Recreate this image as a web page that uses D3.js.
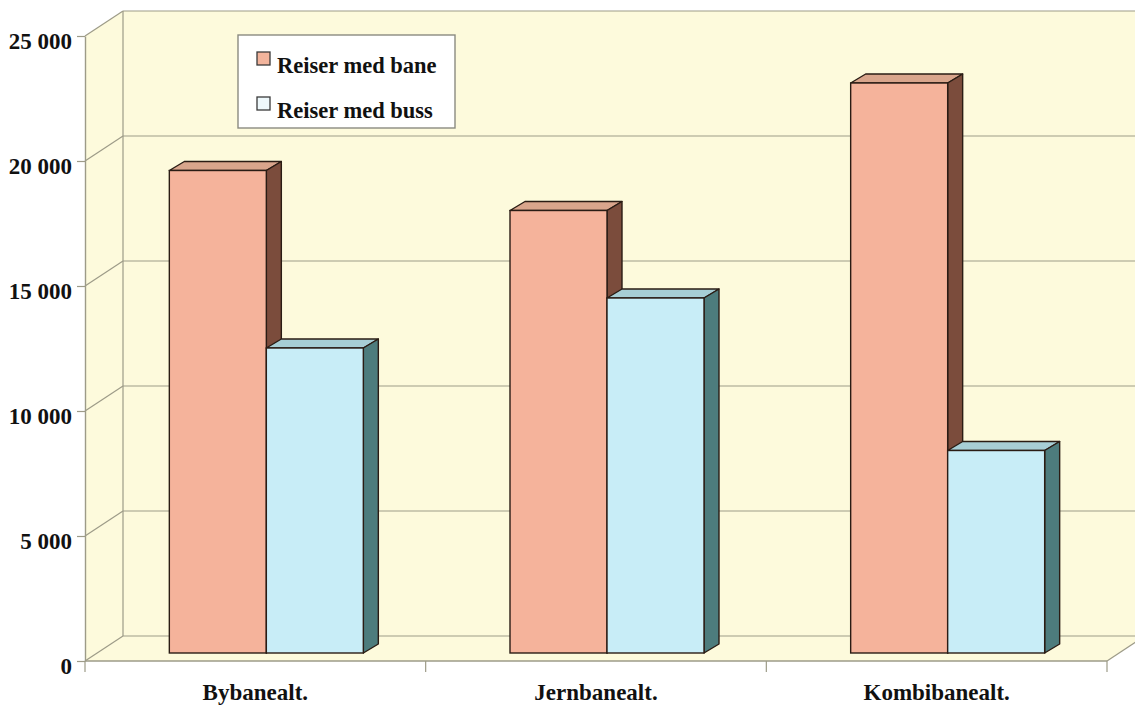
<!DOCTYPE html>
<html>
<head>
<meta charset="utf-8">
<script src="https://cdn.jsdelivr.net/npm/d3@7"></script>
<style>
  html, body { margin: 0; padding: 0; background: #ffffff; }
  svg { display: block; }
  text { font-family: "Liberation Serif", "Times New Roman", serif; font-weight: bold; fill: #111; }
</style>
</head>
<body>
<svg id="chart" width="1135" height="707"></svg>
<script>
// Trips per alternative (daily), by mode
const categories = ["Bybanealt.", "Jernbanealt.", "Kombibanealt."];
const seriesNames = ["Reiser med bane", "Reiser med buss"];
const baneValues = [19300, 17700, 22800];
const bussValues = [12200, 14200, 8100];
const yTicks = [0, 5000, 10000, 15000, 20000, 25000];

const svg = d3.select("#chart");

// Front plane of the 3D box and the depth offset to the back wall
const front = { left: 85, right: 1107, top: 36, bottom: 661 };
const wallDx = 38, wallDy = -25;
// Bars sit partway into the box; each bar has its own small depth
const barOx = 11, barOy = -8;
const barDx = 15, barDy = -9;

const y = d3.scaleLinear().domain([0, 25000]).range([front.bottom, front.top]);
const x = d3.scaleBand().domain(categories).range([front.left, front.right]).paddingInner(0).paddingOuter(0);
const xs = d3.scaleBand().domain(seriesNames).range([0, 194]);

const colors = {
  "Reiser med bane": { front: "#f5b39b", top: "#d9a58c", side: "#7b4c3c", swatch: "#f2b49c" },
  "Reiser med buss": { front: "#c8edf7", top: "#a7ced5", side: "#4d7c7d", swatch: "#eef8fb" }
};
const wallFill = "#fdfadc";
const gridColor = "#9d9b88";
const edge = "#2a1c14";

// Walls and floor
const pts = a => a.map(p => p.join(",")).join(" ");
const g = svg.append("g");
g.append("polygon")
  .attr("points", pts([[front.left, front.top], [front.left + wallDx, front.top + wallDy],
    [front.right + wallDx, front.top + wallDy], [front.right + wallDx, front.bottom + wallDy],
    [front.right, front.bottom], [front.left, front.bottom]]))
  .attr("fill", wallFill);

// Gridlines: side-wall diagonals plus horizontal lines on the back wall
yTicks.forEach(v => {
  const yy = y(v);
  g.append("line").attr("x1", front.left).attr("y1", yy)
    .attr("x2", front.left + wallDx).attr("y2", yy + wallDy)
    .attr("stroke", gridColor).attr("stroke-width", 1.2);
  g.append("line").attr("x1", front.left + wallDx).attr("y1", yy + wallDy)
    .attr("x2", front.right + wallDx).attr("y2", yy + wallDy)
    .attr("stroke", gridColor).attr("stroke-width", 1.2);
});
// Back wall left edge
g.append("line").attr("x1", front.left + wallDx).attr("y1", y(25000) + wallDy)
  .attr("x2", front.left + wallDx).attr("y2", y(0) + wallDy)
  .attr("stroke", gridColor).attr("stroke-width", 1.2);
// Floor front edge and right diagonal
g.append("line").attr("x1", front.left).attr("y1", y(0)).attr("x2", front.right).attr("y2", y(0))
  .attr("stroke", gridColor).attr("stroke-width", 1.4);
g.append("line").attr("x1", front.right).attr("y1", y(0))
  .attr("x2", front.right + wallDx).attr("y2", y(0) + wallDy)
  .attr("stroke", gridColor).attr("stroke-width", 1.2);

// Category boundary ticks below the floor
const bounds = categories.map(c => x(c)).concat([front.right]);
g.selectAll(".ctick").data(bounds).enter().append("line")
  .attr("x1", d => d).attr("x2", d => d)
  .attr("y1", y(0)).attr("y2", y(0) + 11)
  .attr("stroke", gridColor).attr("stroke-width", 1.2);

// Y axis
const fmt = d3.formatLocale({ decimal: ",", thousands: " ", grouping: [3] }).format(",d");
const yAxis = d3.axisLeft(y).tickValues(yTicks).tickFormat(fmt).tickSize(8).tickSizeOuter(0).tickPadding(5);
const ya = svg.append("g").attr("transform", `translate(${front.left},0)`).call(yAxis);
ya.select(".domain").attr("stroke", gridColor).attr("stroke-width", 1.4);
ya.selectAll(".tick line").attr("stroke", gridColor).attr("stroke-width", 1.2);
ya.selectAll(".tick text")
  .style("font-family", "'Liberation Serif', 'Times New Roman', serif")
  .style("font-weight", "bold").style("font-size", "23px").attr("fill", "#111")
  .attr("dy", "0.55em");

// Bars
const data = categories.map((c, i) => ({ cat: c, values: [baneValues[i], bussValues[i]] }));
const bars = svg.append("g");
data.forEach(d => {
  const groupLeft = x(d.cat) + (x.bandwidth() - xs.range()[1]) / 2 + barOx;
  seriesNames.forEach((s, j) => {
    const x0 = groupLeft + xs(s);
    const x1 = x0 + xs.bandwidth();
    const yb = y(0) + barOy;
    const yt = y(d.values[j]) + barOy;
    const c = colors[s];
    // top face
    bars.append("polygon")
      .attr("points", pts([[x0, yt], [x0 + barDx, yt + barDy], [x1 + barDx, yt + barDy], [x1, yt]]))
      .attr("fill", c.top).attr("stroke", edge).attr("stroke-width", 1.4).attr("stroke-linejoin", "round");
    // side face
    bars.append("polygon")
      .attr("points", pts([[x1, yt], [x1 + barDx, yt + barDy], [x1 + barDx, yb + barDy], [x1, yb]]))
      .attr("fill", c.side).attr("stroke", edge).attr("stroke-width", 1.4).attr("stroke-linejoin", "round");
    // front face
    bars.append("rect")
      .attr("x", x0).attr("y", yt).attr("width", x1 - x0).attr("height", yb - yt)
      .attr("fill", c.front).attr("stroke", edge).attr("stroke-width", 1.4);
  });
});

// Category labels
svg.append("g").selectAll("text").data(categories).enter().append("text")
  .attr("x", d => x(d) + x.bandwidth() / 2)
  .attr("y", 700)
  .attr("text-anchor", "middle")
  .style("font-size", "23px")
  .text(d => d);

// Legend
const lg = svg.append("g").attr("transform", "translate(238,35)");
lg.append("rect").attr("width", 217).attr("height", 93)
  .attr("fill", "#ffffff").attr("stroke", "#8a8a80").attr("stroke-width", 1.4);
seriesNames.forEach((s, i) => {
  const row = lg.append("g").attr("transform", `translate(19,${17 + i * 45})`);
  row.append("rect").attr("width", 13).attr("height", 13)
    .attr("fill", colors[s].swatch).attr("stroke", "#3a3a3a").attr("stroke-width", 1.3);
  row.append("text").attr("x", 20).attr("y", 21)
    .style("font-size", "22.5px").text(s);
});
</script>
</body>
</html>
